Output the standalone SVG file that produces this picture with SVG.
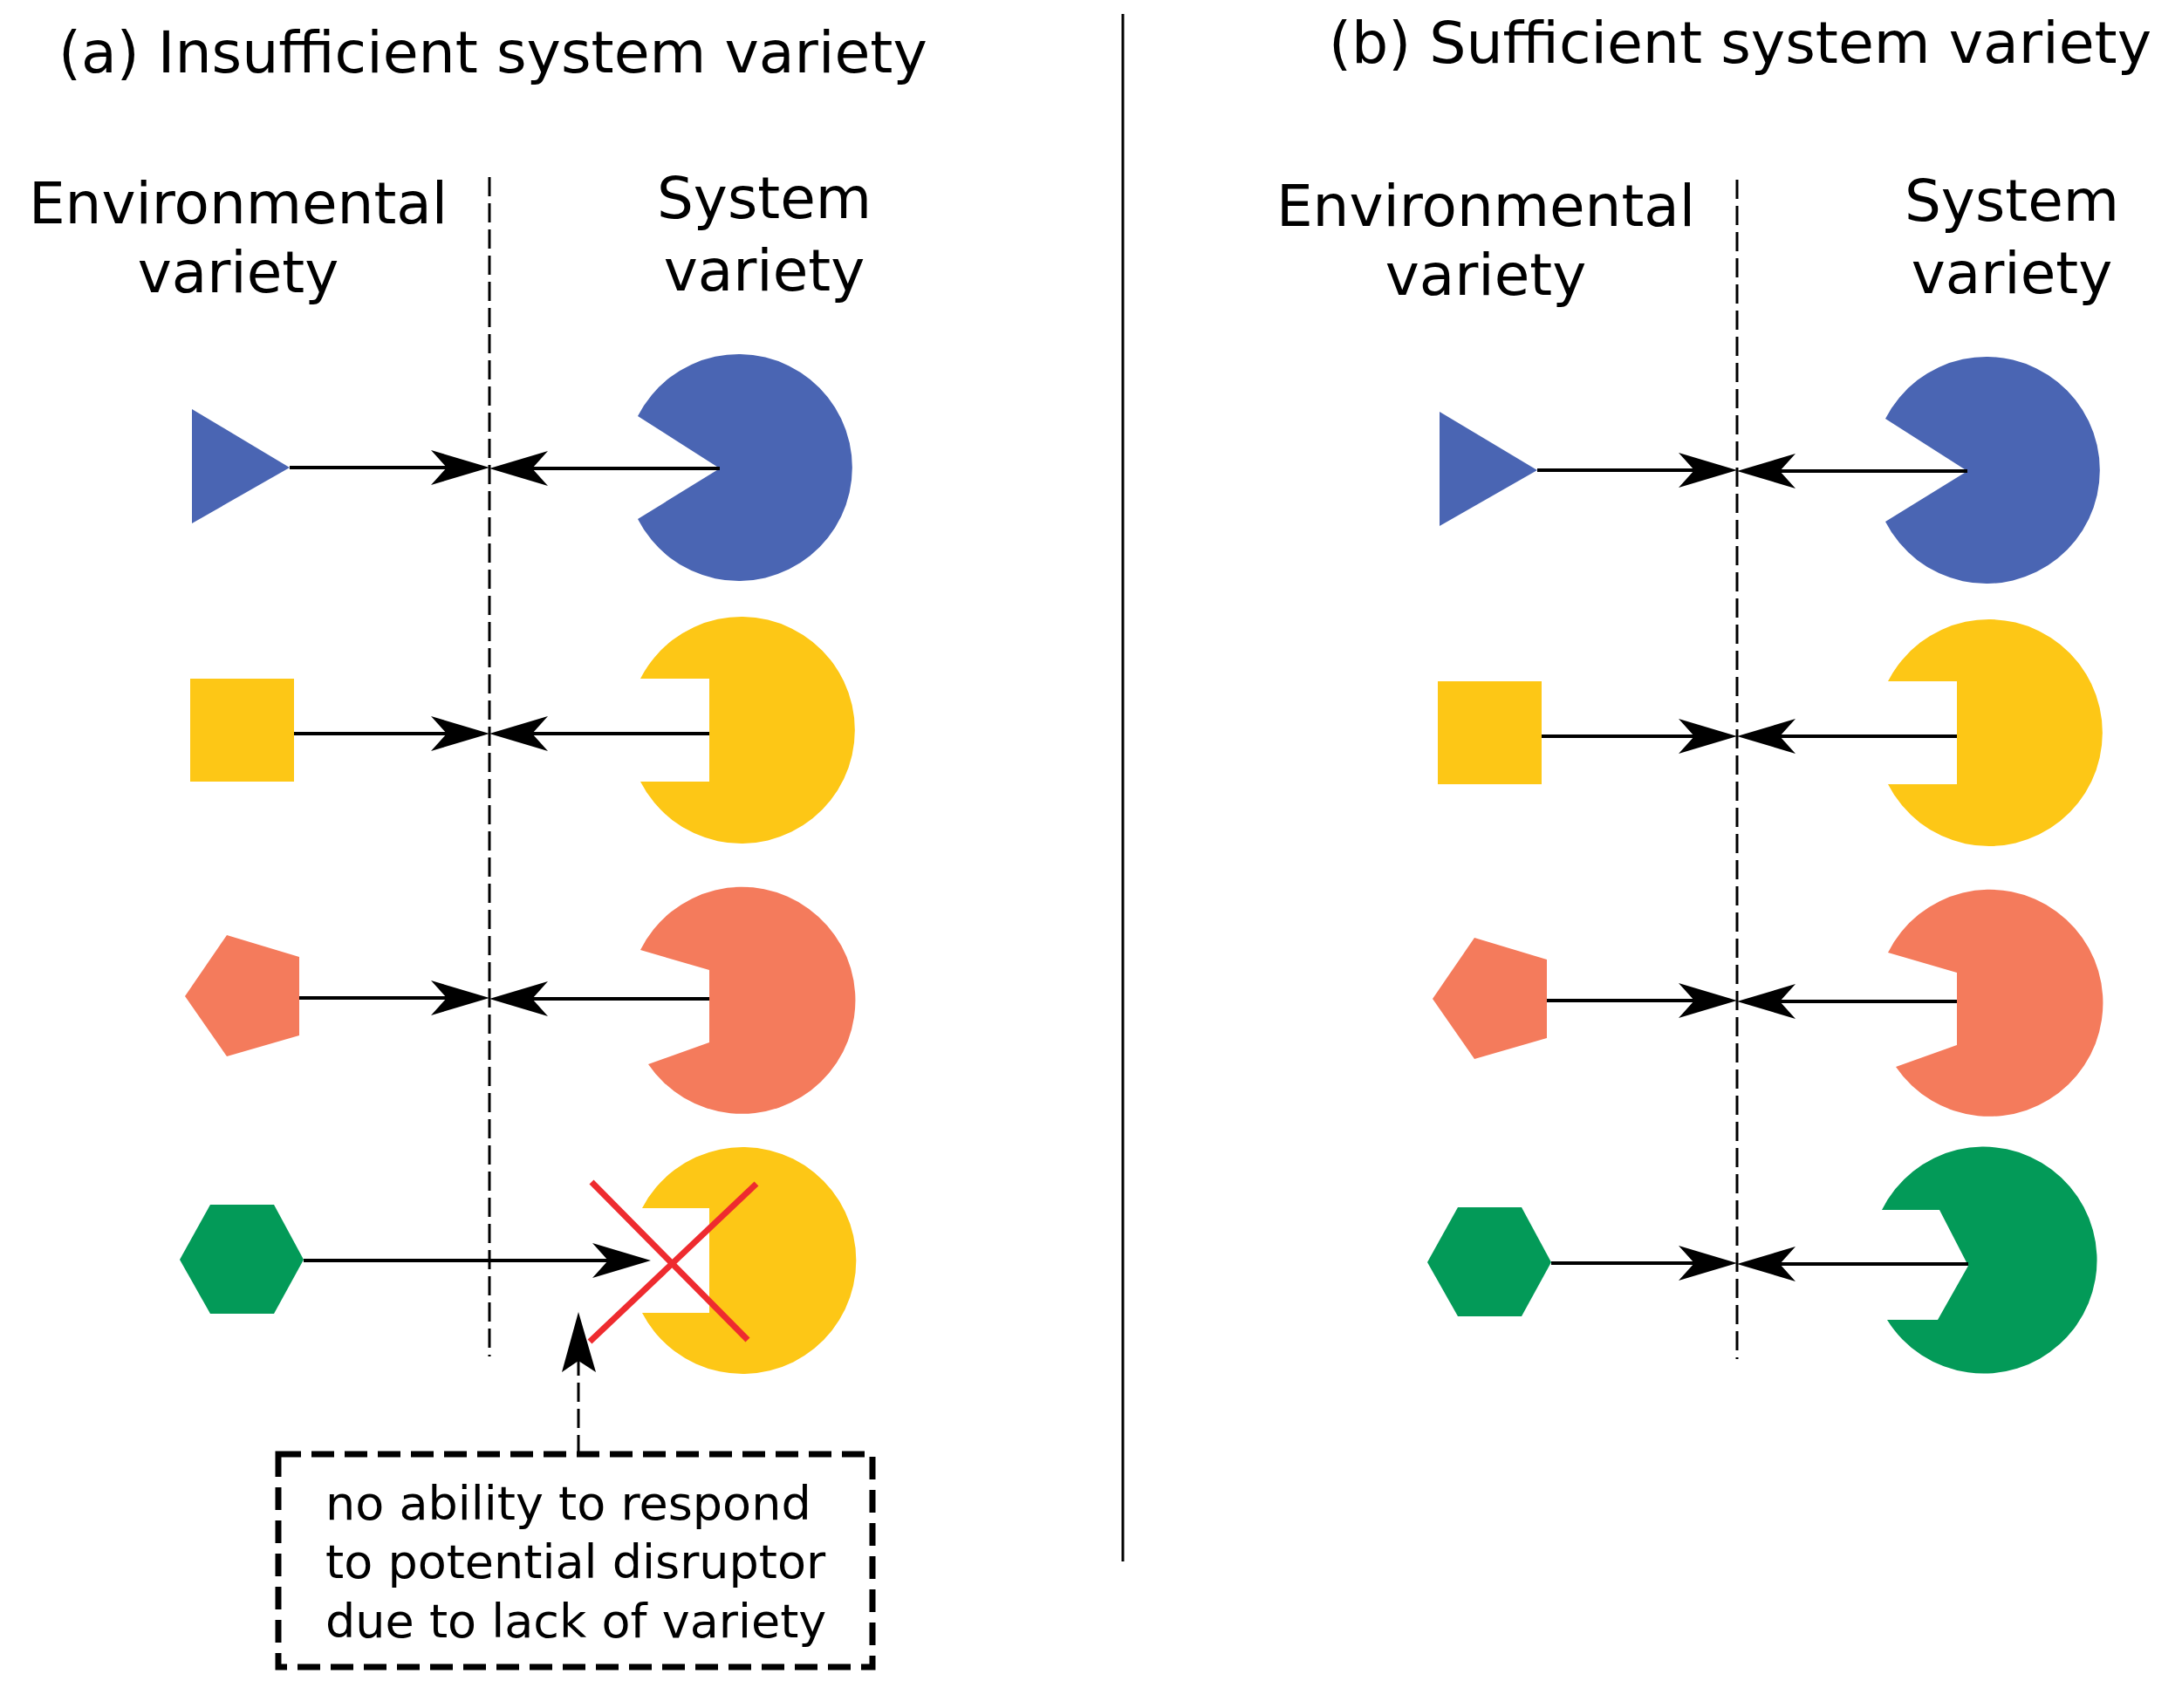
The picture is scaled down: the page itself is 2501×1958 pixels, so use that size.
<svg xmlns="http://www.w3.org/2000/svg" xmlns:xlink="http://www.w3.org/1999/xlink" width="2501" height="1958" viewBox="0 0 2501 1958">
<style>
text{font-family:"DejaVu Sans","Liberation Sans",sans-serif;fill:#000}
.t{font-size:66.5px}.h{font-size:66px;text-anchor:middle}.n{font-size:54px}
.ln{stroke:#000;stroke-width:4;fill:none}
.dash{stroke:#000;stroke-width:3;stroke-dasharray:22 8;fill:none}
.blue{fill:#4a65b3}.yel{fill:#fdc716}.sal{fill:#f47b5c}.grn{fill:#039a58}
.red{stroke:#ee2b2f;stroke-width:7}
</style>
<defs>
<path id="ah" d="M0,0 L-67,-20 L-49,0 L-67,20 Z" fill="#000"/>
</defs>
<rect width="2501" height="1958" fill="#fff"/>
<g id="titles">
<text class="t" x="67" y="83">(a) Insufficient system variety</text>
<text class="t" x="1523" y="72">(b) Sufficient system variety</text>
<text class="h" x="273" y="256">Environmental</text>
<text class="h" x="273" y="335">variety</text>
<text class="h" x="876" y="250">System</text>
<text class="h" x="876" y="333">variety</text>
<text class="h" x="1703" y="259">Environmental</text>
<text class="h" x="1703" y="338">variety</text>
<text class="h" x="2306" y="253">System</text>
<text class="h" x="2306" y="336">variety</text>
</g>
<g id="dividers">
<line x1="1287" y1="16" x2="1287" y2="1790" stroke="#000" stroke-width="3"/>
<line class="dash" x1="561" y1="203" x2="561" y2="1555"/>
<line class="dash" x1="1991" y1="206" x2="1991" y2="1558"/>
</g>
<g id="left-env">
<polygon id="a-tri" class="blue" points="220,469 332,536 220,600"/>
<rect id="a-sq" class="yel" x="218" y="778" width="119" height="118"/>
<polygon id="a-pent" class="sal" points="212,1142 260,1072 343,1097 343,1187 260,1211"/>
<polygon id="a-hex" class="grn" points="206,1444 241,1381 314,1381 348,1444 314,1506 241,1506"/>
</g>
<g id="left-sys">
<path id="a-sys1" class="blue" d="M731,477 A130,130 0 1 1 731,595 L825,537 Z"/>
<path id="a-sys2" class="yel" d="M734,778 A130,130 0 1 1 734,896 L813,896 L813,778 Z"/>
<path id="a-sys3" class="sal" d="M734,1089 A130,130 0 1 1 743,1220 L813,1195 L813,1112 Z"/>
<path id="a-sys4" class="yel" d="M736,1385 A130,130 0 1 1 736,1505 L813,1505 L813,1385 Z"/>
</g>
<g id="right-env" transform="translate(1430,3)">
<polygon class="blue" points="220,469 332,536 220,600"/>
<rect class="yel" x="218" y="778" width="119" height="118"/>
<polygon class="sal" points="212,1142 260,1072 343,1097 343,1187 260,1211"/>
<polygon class="grn" points="206,1444 241,1381 314,1381 348,1444 314,1506 241,1506"/>
</g>
<g id="right-sys" transform="translate(1430,3)">
<path class="blue" d="M731,477 A130,130 0 1 1 731,595 L825,537 Z"/>
<path class="yel" d="M734,778 A130,130 0 1 1 734,896 L813,896 L813,778 Z"/>
<path class="sal" d="M734,1089 A130,130 0 1 1 743,1220 L813,1195 L813,1112 Z"/>
<path class="grn" d="M727,1384 A130,130 0 1 1 733,1510 L791,1510 L826,1448 L793,1384 Z"/>
</g>
<g id="connectors">
<line class="ln" x1="332" y1="536" x2="520" y2="536"/><line class="ln" x1="602" y1="537" x2="825" y2="537"/>
<use xlink:href="#ah" transform="translate(561,536)"/><use xlink:href="#ah" transform="translate(561,537) rotate(180)"/>
<line class="ln" x1="337" y1="841" x2="520" y2="841"/><line class="ln" x1="602" y1="841" x2="813" y2="841"/>
<use xlink:href="#ah" transform="translate(561,841)"/><use xlink:href="#ah" transform="translate(561,841) rotate(180)"/>
<line class="ln" x1="343" y1="1144" x2="520" y2="1144"/><line class="ln" x1="602" y1="1145" x2="813" y2="1145"/>
<use xlink:href="#ah" transform="translate(561,1144)"/><use xlink:href="#ah" transform="translate(561,1145) rotate(180)"/>
<line class="ln" x1="348" y1="1445" x2="705" y2="1445"/>
<use xlink:href="#ah" transform="translate(746,1445)"/>
<g transform="translate(1430,3)">
<line class="ln" x1="332" y1="536" x2="520" y2="536"/><line class="ln" x1="602" y1="537" x2="825" y2="537"/>
<use xlink:href="#ah" transform="translate(561,536)"/><use xlink:href="#ah" transform="translate(561,537) rotate(180)"/>
<line class="ln" x1="337" y1="841" x2="520" y2="841"/><line class="ln" x1="602" y1="841" x2="813" y2="841"/>
<use xlink:href="#ah" transform="translate(561,841)"/><use xlink:href="#ah" transform="translate(561,841) rotate(180)"/>
<line class="ln" x1="343" y1="1144" x2="520" y2="1144"/><line class="ln" x1="602" y1="1145" x2="813" y2="1145"/>
<use xlink:href="#ah" transform="translate(561,1144)"/><use xlink:href="#ah" transform="translate(561,1145) rotate(180)"/>
<line class="ln" x1="348" y1="1445" x2="520" y2="1445"/><line class="ln" x1="602" y1="1446" x2="826" y2="1446"/>
<use xlink:href="#ah" transform="translate(561,1445)"/><use xlink:href="#ah" transform="translate(561,1446) rotate(180)"/>
</g>
<line class="dash" x1="663" y1="1667" x2="663" y2="1560"/>
<path d="M663,1504 L644,1573 L663,1560 L683,1573 Z" fill="#000"/>
</g>
<g id="cross">
<line class="red" x1="678" y1="1355" x2="857" y2="1536"/>
<line class="red" x1="867" y1="1357" x2="676" y2="1538"/>
</g>
<g id="note">
<rect x="319" y="1667" width="681" height="244" fill="none" stroke="#000" stroke-width="7" stroke-dasharray="26 12"/>
<text class="n" x="373" y="1742">no ability to respond</text>
<text class="n" x="373" y="1809">to potential disruptor</text>
<text class="n" x="373" y="1877">due to lack of variety</text>
</g>
</svg>
